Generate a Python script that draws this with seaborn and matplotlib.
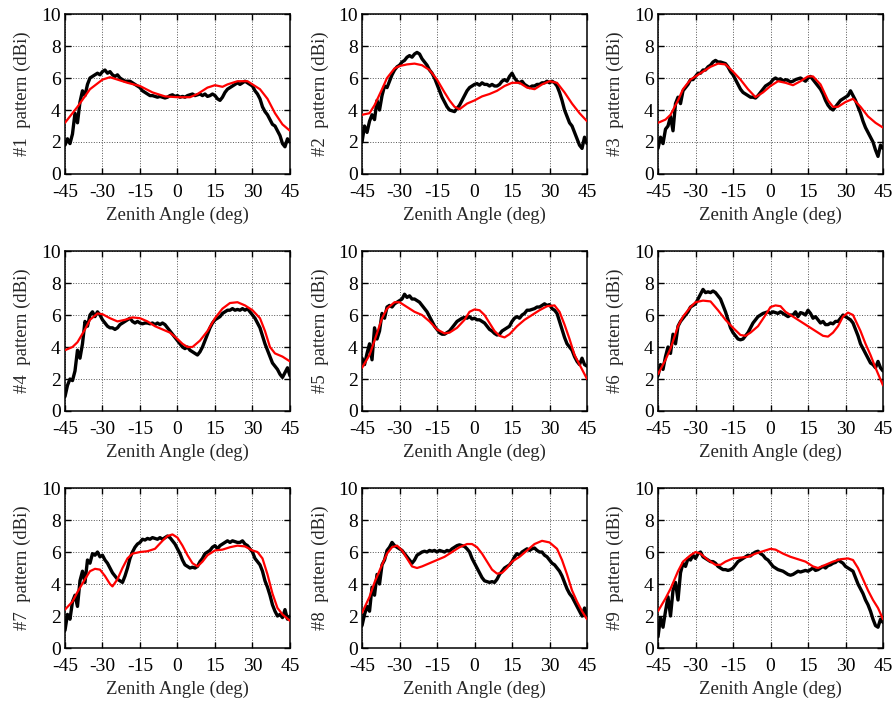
import numpy as np
import pandas as pd
import matplotlib
matplotlib.use("Agg")
import matplotlib.pyplot as plt
import seaborn as sns

# Measured patterns are sampled every degree from -45 to 45
angles = list(range(-45, 46))

# ---- Antenna #1 ----
sim1_x = [-45, -40, -35, -30, -27, -24, -20, -15, -10, -5, 0, 5, 8, 12, 15, 18, 20, 24, 28, 30, 33, 36, 39, 42, 45]
sim1_y = [3.2, 4.2, 5.3, 5.9, 6.05, 5.9, 5.7, 5.5, 5.1, 4.85, 4.8, 4.8, 5.0, 5.4, 5.55, 5.45, 5.6, 5.8, 5.8, 5.6, 5.3, 4.7, 3.8, 3.1, 2.7]
meas1 = [1.8, 2.2, 1.9, 2.5, 3.8, 3.2, 4.5, 5.2, 4.9, 5.6, 6.0, 6.1, 6.2, 6.3, 6.2, 6.4, 6.5, 6.3, 6.4, 6.2,
         6.1, 6.2, 6.0, 5.9, 5.8, 5.8, 5.8, 5.7, 5.6, 5.5, 5.4, 5.2, 5.1, 5.0, 4.9, 4.9, 4.85, 4.8, 4.85, 4.8,
         4.75, 4.8, 4.9, 4.95, 4.85, 4.9, 4.8, 4.85, 4.8, 4.9, 4.95, 5.0, 4.9, 4.95, 5.0, 4.9, 5.0, 4.85, 4.9, 5.0,
         4.9, 4.7, 4.6, 4.8, 5.1, 5.3, 5.4, 5.5, 5.6, 5.7, 5.6, 5.7, 5.8, 5.7, 5.6, 5.5, 5.2, 5.0, 4.7, 4.2,
         3.9, 3.7, 3.4, 3.1, 3.0, 2.7, 2.4, 1.9, 1.7, 2.2, 2.0]

# ---- Antenna #2 ----
sim2_x = [-45, -42, -40, -37, -35, -32, -30, -27, -24, -21, -18, -15, -12, -10, -8, -6, -3, 0, 3, 6, 9, 12, 15, 18, 21, 24, 27, 30, 33, 36, 39, 42, 45]
sim2_y = [3.7, 3.8, 4.3, 5.3, 6.0, 6.6, 6.75, 6.85, 6.9, 6.8, 6.5, 5.9, 5.1, 4.6, 4.2, 4.05, 4.4, 4.6, 4.85, 5.0, 5.2, 5.5, 5.7, 5.7, 5.4, 5.3, 5.6, 5.8, 5.7, 5.1, 4.4, 3.8, 3.3]
meas2 = [2.0, 3.0, 2.6, 3.3, 3.7, 3.4, 4.6, 4.0, 4.9, 5.5, 5.4, 5.8, 6.2, 6.5, 6.7, 6.8, 7.0, 7.1, 7.3, 7.4,
         7.3, 7.5, 7.6, 7.5, 7.2, 7.0, 6.8, 6.5, 6.3, 6.0, 5.6, 5.2, 4.8, 4.5, 4.2, 4.0, 3.95, 3.9, 4.1, 4.3,
         4.6, 4.9, 5.2, 5.4, 5.5, 5.6, 5.65, 5.55, 5.7, 5.6, 5.6, 5.5, 5.6, 5.5, 5.5, 5.6, 5.8, 5.9, 5.8, 6.1,
         6.3, 6.0, 5.8, 5.7, 5.8, 5.6, 5.5, 5.4, 5.5, 5.5, 5.6, 5.6, 5.7, 5.7, 5.8, 5.7, 5.8, 5.7, 5.5, 5.1,
         4.6, 4.0, 3.6, 3.2, 3.0, 2.6, 2.2, 1.8, 1.6, 2.3, 1.9]

# ---- Antenna #3 ----
sim3_x = [-45, -42, -40, -37, -35, -32, -30, -27, -24, -21, -18, -15, -12, -9, -6, -3, 0, 3, 6, 9, 12, 15, 17, 20, 23, 25, 27, 30, 33, 36, 39, 42, 45]
sim3_y = [3.2, 3.4, 3.7, 4.6, 5.3, 5.9, 6.1, 6.4, 6.7, 6.9, 6.85, 6.4, 5.9, 5.3, 4.8, 5.1, 5.5, 5.8, 5.7, 5.55, 5.8, 6.1, 6.1, 5.6, 4.6, 4.2, 4.2, 4.5, 4.7, 4.2, 3.6, 3.2, 2.9]
meas3 = [1.6, 2.3, 1.9, 2.8, 3.0, 3.6, 2.7, 4.4, 4.8, 4.4, 5.2, 5.4, 5.6, 5.9, 5.9, 6.1, 6.3, 6.3, 6.5, 6.5,
         6.7, 6.8, 7.0, 7.1, 7.0, 7.0, 6.95, 6.9, 6.7, 6.4, 6.2, 5.9, 5.6, 5.3, 5.1, 5.0, 4.9, 4.8, 4.8, 4.75,
         4.9, 5.1, 5.3, 5.5, 5.6, 5.7, 5.9, 6.0, 5.9, 5.95, 5.8, 5.9, 5.85, 5.75, 5.8, 5.9, 5.95, 6.0, 5.9, 5.8,
         6.0, 6.1, 5.9, 5.7, 5.5, 5.3, 5.0, 4.6, 4.3, 4.1, 4.0, 4.2, 4.4, 4.6, 4.7, 4.8, 4.9, 5.2, 4.9, 4.6,
         4.2, 3.8, 3.3, 2.9, 2.6, 2.3, 2.0, 1.5, 1.1, 1.8, 1.6]

# ---- Antenna #4 ----
sim4_x = [-45, -42, -40, -37, -35, -32, -30, -27, -24, -21, -18, -15, -12, -9, -6, -3, 0, 2, 4, 6, 9, 12, 15, 18, 21, 24, 27, 30, 33, 35, 37, 39, 42, 45]
sim4_y = [3.8, 4.0, 4.3, 5.1, 5.7, 6.1, 6.05, 5.8, 5.6, 5.7, 5.85, 5.8, 5.6, 5.3, 5.1, 4.9, 4.5, 4.2, 4.0, 4.0, 4.4, 5.0, 5.8, 6.4, 6.75, 6.8, 6.6, 6.3, 5.8, 5.0, 4.0, 3.6, 3.4, 3.1]
meas4 = [0.9, 1.6, 2.0, 1.9, 2.5, 3.8, 3.3, 4.2, 5.6, 5.3, 6.0, 6.2, 5.9, 6.2, 6.0, 5.7, 5.5, 5.3, 5.2, 5.2,
         5.1, 5.2, 5.4, 5.5, 5.6, 5.7, 5.8, 5.6, 5.5, 5.6, 5.5, 5.45, 5.5, 5.5, 5.45, 5.5, 5.4, 5.5, 5.4, 5.5,
         5.4, 5.2, 5.0, 4.8, 4.6, 4.4, 4.2, 4.0, 3.9, 4.0, 3.8, 3.7, 3.6, 3.5, 3.7, 4.0, 4.4, 4.8, 5.2, 5.5,
         5.7, 5.8, 5.9, 6.1, 6.2, 6.3, 6.3, 6.4, 6.3, 6.35, 6.3, 6.4, 6.3, 6.4, 6.2, 6.0, 5.8, 5.5, 5.2, 4.7,
         4.2, 3.8, 3.4, 3.0, 2.8, 2.6, 2.3, 2.1, 2.4, 2.7, 2.2]

# ---- Antenna #5 ----
sim5_x = [-45, -42, -40, -37, -35, -32, -30, -27, -24, -21, -18, -15, -12, -10, -7, -4, -2, 0, 2, 4, 6, 8, 10, 12, 14, 17, 20, 23, 26, 29, 32, 34, 36, 38, 40, 42, 45]
sim5_y = [2.7, 3.5, 4.4, 5.8, 6.4, 6.8, 6.8, 6.5, 6.2, 6.0, 5.6, 5.1, 4.85, 4.9, 5.2, 5.7, 6.2, 6.35, 6.3, 6.0, 5.5, 5.0, 4.7, 4.6, 4.8, 5.3, 5.7, 6.0, 6.3, 6.55, 6.6, 6.2, 5.4, 4.5, 3.5, 2.9, 2.0]
meas5 = [3.3, 2.9, 3.6, 4.2, 3.2, 5.2, 4.5, 5.0, 6.1, 5.8, 6.5, 6.6, 6.5, 6.7, 6.8, 6.9, 7.0, 7.3, 7.1, 7.2,
         7.0, 7.0, 6.9, 6.8, 6.6, 6.4, 6.2, 5.9, 5.6, 5.3, 5.1, 4.9, 4.8, 4.8, 4.9, 5.0, 5.2, 5.4, 5.6, 5.7,
         5.8, 5.85, 5.8, 5.9, 5.75, 5.8, 5.7, 5.7, 5.6, 5.5, 5.3, 5.1, 5.0, 4.85, 4.75, 4.8, 5.0, 5.1, 5.2, 5.3,
         5.6, 5.8, 5.9, 5.8, 6.0, 6.1, 6.3, 6.3, 6.35, 6.4, 6.5, 6.5, 6.6, 6.7, 6.6, 6.65, 6.4, 6.3, 6.1, 5.6,
         5.1, 4.6, 4.2, 4.0, 3.8, 3.4, 3.1, 2.9, 3.3, 2.9, 2.8]

# ---- Antenna #6 ----
sim6_x = [-45, -42, -40, -37, -35, -32, -30, -27, -24, -21, -18, -15, -12, -10, -8, -5, -2, 0, 2, 4, 6, 9, 12, 15, 18, 21, 23, 25, 27, 29, 31, 33, 36, 38, 40, 42, 45]
sim6_y = [2.3, 3.2, 3.9, 5.3, 5.9, 6.5, 6.8, 6.9, 6.85, 6.3, 5.7, 5.2, 4.75, 4.7, 4.9, 5.3, 6.0, 6.5, 6.6, 6.55, 6.2, 5.9, 5.6, 5.3, 5.0, 4.7, 4.65, 4.9, 5.3, 5.9, 6.15, 6.0, 5.0, 4.2, 3.5, 2.7, 1.6]
meas6 = [2.2, 2.9, 2.6, 3.4, 4.0, 3.6, 4.8, 4.2, 5.3, 5.6, 5.8, 6.0, 6.2, 6.5, 6.6, 6.7, 7.0, 7.3, 7.6, 7.4,
         7.45, 7.4, 7.5, 7.4, 7.2, 7.0, 6.6, 6.2, 5.7, 5.2, 4.9, 4.7, 4.5, 4.45, 4.5, 4.7, 4.9, 5.2, 5.5, 5.7,
         5.9, 6.0, 6.1, 6.15, 6.2, 6.1, 6.2, 6.15, 6.1, 6.2, 6.1, 6.0, 5.9, 6.0, 6.0, 6.2, 5.9, 6.15, 6.1, 6.0,
         6.3, 6.1, 5.8, 5.9, 5.7, 5.5, 5.6, 5.4, 5.4, 5.5, 5.45, 5.6, 5.6, 5.8, 6.0, 5.9, 5.8, 5.7, 5.5, 5.1,
         4.7, 4.2, 3.9, 3.6, 3.3, 3.0, 2.9, 2.7, 3.1, 2.7, 2.5]

# ---- Antenna #7 ----
sim7_x = [-45, -42, -40, -37, -35, -33, -31, -29, -27, -26, -24, -22, -20, -18, -15, -12, -9, -6, -4, -2, 0, 2, 4, 6, 8, 10, 12, 15, 18, 21, 24, 27, 30, 32, 34, 36, 38, 40, 42, 45]
sim7_y = [2.4, 2.9, 3.5, 4.3, 4.8, 4.95, 4.9, 4.5, 4.0, 3.85, 4.3, 5.0, 5.6, 5.9, 6.0, 6.05, 6.2, 6.7, 7.0, 7.1, 6.9, 6.4, 5.8, 5.3, 5.1, 5.4, 5.8, 6.1, 6.15, 6.3, 6.4, 6.35, 6.1, 6.0, 5.6, 4.6, 3.4, 2.5, 2.1, 1.7]
meas7 = [1.1, 2.1, 1.8, 2.9, 3.3, 2.6, 4.2, 4.8, 4.1, 5.5, 5.3, 5.9, 5.8, 6.0, 5.7, 5.8, 5.5, 5.3, 5.0, 4.7,
         4.5, 4.3, 4.2, 4.1, 4.5, 5.0, 5.6, 6.0, 6.3, 6.5, 6.6, 6.8, 6.75, 6.85, 6.8, 6.9, 6.85, 6.8, 6.9, 6.8,
         6.9, 7.0, 6.9, 6.7, 6.5, 6.2, 5.9, 5.5, 5.2, 5.1, 5.0, 5.05, 5.0, 5.1, 5.4, 5.6, 5.9, 6.0, 6.1, 6.3,
         6.4, 6.2, 6.4, 6.5, 6.6, 6.7, 6.6, 6.7, 6.65, 6.6, 6.6, 6.7, 6.5, 6.4, 6.2, 6.0, 5.6, 5.4, 5.2, 4.8,
         4.2, 3.8, 3.3, 2.7, 2.3, 2.0, 2.1, 1.9, 2.4, 1.8, 2.0]

# ---- Antenna #8 ----
sim8_x = [-45, -42, -40, -37, -35, -33, -31, -29, -27, -25, -23, -21, -18, -15, -12, -9, -6, -3, -1, 1, 3, 5, 7, 9, 11, 13, 15, 18, 21, 24, 27, 30, 33, 35, 37, 39, 41, 43, 45]
sim8_y = [2.2, 3.2, 4.1, 5.2, 5.9, 6.3, 6.4, 6.1, 5.6, 5.1, 5.0, 5.1, 5.3, 5.5, 5.7, 6.0, 6.3, 6.5, 6.5, 6.3, 5.9, 5.4, 4.9, 4.65, 4.7, 5.0, 5.4, 5.7, 6.1, 6.5, 6.7, 6.6, 6.2, 5.5, 4.6, 3.6, 2.9, 2.3, 1.8]
meas8 = [1.4, 2.1, 2.6, 2.3, 3.8, 3.3, 4.6, 4.0, 5.2, 5.5, 6.1, 6.3, 6.6, 6.4, 6.3, 6.2, 6.1, 5.9, 5.7, 5.5,
         5.3, 5.5, 5.8, 5.9, 6.0, 6.05, 6.0, 6.1, 6.05, 6.1, 6.0, 6.1, 6.05, 6.0, 6.1, 6.05, 6.2, 6.3, 6.4, 6.45,
         6.4, 6.35, 6.2, 6.0, 5.6, 5.3, 5.0, 4.7, 4.4, 4.2, 4.15, 4.1, 4.15, 4.1, 4.3, 4.6, 4.8, 5.0, 5.1, 5.2,
         5.4, 5.7, 5.9, 5.8, 6.0, 6.1, 6.2, 6.1, 6.2, 6.25, 6.1, 6.0, 6.0, 5.8, 5.7, 5.5, 5.3, 5.2, 5.0, 4.8,
         4.5, 4.1, 3.7, 3.4, 3.2, 2.9, 2.6, 2.3, 2.0, 2.5, 1.9]

# ---- Antenna #9 ----
sim9_x = [-45, -42, -40, -37, -35, -32, -30, -28, -25, -22, -20, -18, -15, -12, -9, -6, -3, 0, 2, 5, 8, 11, 14, 17, 19, 22, 25, 28, 31, 33, 35, 37, 39, 41, 43, 45]
sim9_y = [2.3, 3.1, 3.7, 4.8, 5.4, 5.8, 6.0, 5.9, 5.5, 5.2, 5.2, 5.4, 5.6, 5.65, 5.7, 5.9, 6.05, 6.2, 6.15, 5.9, 5.7, 5.55, 5.4, 5.1, 5.0, 5.2, 5.4, 5.55, 5.6, 5.5, 5.0, 4.3, 3.6, 3.0, 2.5, 1.8]
meas9 = [0.7, 1.9, 1.3, 2.3, 3.2, 2.0, 3.6, 4.1, 3.0, 4.7, 5.3, 5.1, 5.6, 5.5, 5.8, 5.6, 5.9, 6.0, 5.7, 5.6,
         5.5, 5.4, 5.4, 5.3, 5.1, 5.0, 4.9, 4.9, 4.85, 4.9, 5.0, 5.2, 5.4, 5.5, 5.6, 5.7, 5.8, 5.75, 5.9, 6.0,
         6.05, 5.9, 5.8, 5.6, 5.5, 5.3, 5.1, 5.0, 4.9, 4.85, 4.8, 4.7, 4.6, 4.55, 4.6, 4.7, 4.8, 4.75, 4.8, 4.85,
         4.8, 4.9, 5.0, 4.85, 4.9, 5.0, 5.1, 5.0, 5.15, 5.2, 5.3, 5.35, 5.5, 5.4, 5.3, 5.1, 5.0, 4.9, 4.8, 4.4,
         4.0, 3.7, 3.4, 3.0, 2.7, 2.3, 1.8, 1.4, 1.3, 1.8, 1.6]

panels = [
    ("#1", sim1_x, sim1_y, meas1),
    ("#2", sim2_x, sim2_y, meas2),
    ("#3", sim3_x, sim3_y, meas3),
    ("#4", sim4_x, sim4_y, meas4),
    ("#5", sim5_x, sim5_y, meas5),
    ("#6", sim6_x, sim6_y, meas6),
    ("#7", sim7_x, sim7_y, meas7),
    ("#8", sim8_x, sim8_y, meas8),
    ("#9", sim9_x, sim9_y, meas9),
]

sns.set_style("ticks")
plt.rcParams["font.family"] = ["Liberation Serif", "DejaVu Serif"]
plt.rcParams["axes.unicode_minus"] = False

fig = plt.figure(figsize=(8.95, 7.01), dpi=100)

col_left = [0.0726, 0.4045, 0.7352]
row_bottom = [0.7518, 0.4137, 0.0756]
ax_w, ax_h = 0.2514, 0.2282

for i, (name, sx, sy, meas) in enumerate(panels):
    r, c = divmod(i, 3)
    ax = fig.add_axes([col_left[c], row_bottom[r], ax_w, ax_h])

    meas_df = pd.DataFrame({"angle": angles, "gain": meas})
    sim_df = pd.DataFrame({"angle": sx, "gain": sy})

    sns.lineplot(data=meas_df, x="angle", y="gain", ax=ax, color="black",
                 linewidth=2.4, estimator=None, zorder=3)
    sns.lineplot(data=sim_df, x="angle", y="gain", ax=ax, color="#ff0000",
                 linewidth=1.6, estimator=None, zorder=4)

    ax.set_xlim(-45, 45)
    ax.set_ylim(0, 10)
    ax.set_xticks([-45, -30, -15, 0, 15, 30, 45])
    ax.set_yticks([0, 2, 4, 6, 8, 10])
    ax.grid(True, linestyle=":", color="#555555", linewidth=0.7)
    ax.set_axisbelow(True)
    ax.tick_params(direction="in", length=4, width=1.0, top=True, right=True,
                   labelsize=14, colors="black")
    ax.tick_params(axis="x", pad=7.5)
    ax.tick_params(axis="y", pad=3)
    for sp in ax.spines.values():
        sp.set_visible(True)
        sp.set_linewidth(1.1)
        sp.set_color("black")
    ax.set_xlabel("Zenith Angle (deg)", fontsize=13.5, labelpad=4)
    ax.set_ylabel(f"{name}  pattern (dBi)", fontsize=13.5, labelpad=7)

fig.savefig("out.png", dpi=100)
